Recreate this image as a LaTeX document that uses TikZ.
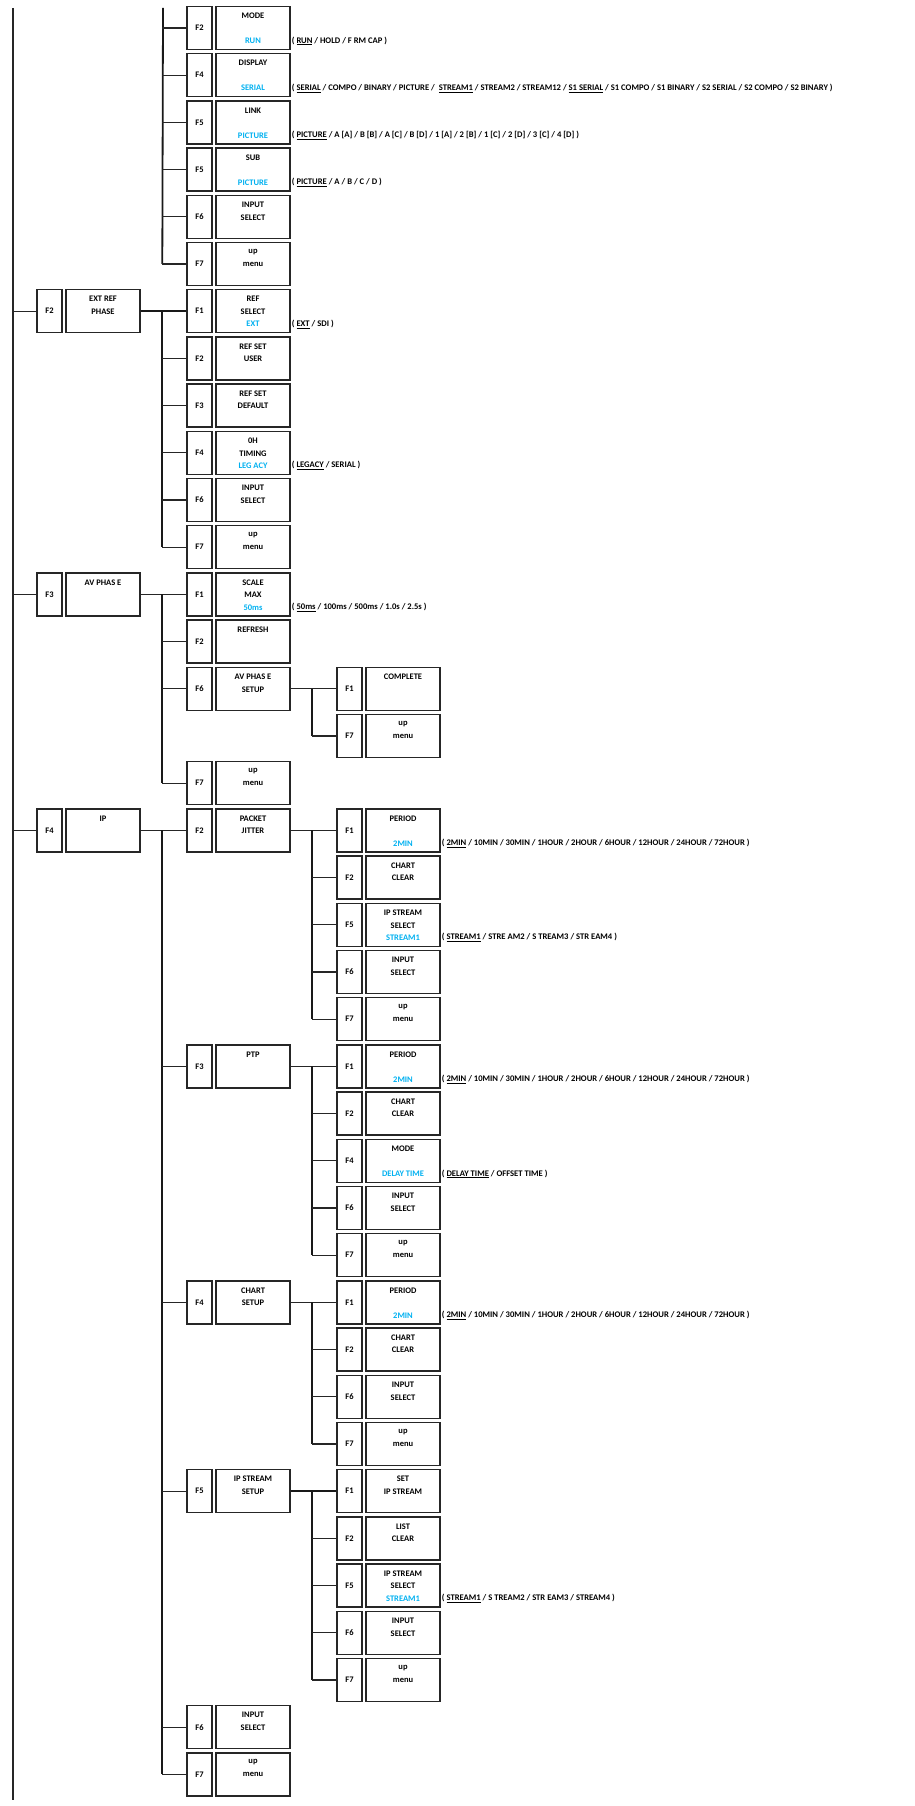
\documentclass[tikz,border=0pt]{standalone}
\usepackage{fontspec}
\setmainfont{Carlito}
\usetikzlibrary{calc}
\definecolor{cy}{HTML}{00B0F0}
\tikzset{
  fk/.style={draw=black!85,line width=1.4pt,minimum width=25pt,minimum height=43pt,inner sep=0pt,font=\fontsize{8.5}{9}\selectfont\bfseries},
  nb/.style={draw=black!85,line width=1.4pt,minimum width=74pt,minimum height=43pt,inner sep=0pt},
  tx/.style={inner sep=0pt,font=\fontsize{8.5}{9}\selectfont\bfseries},
  vx/.style={tx,text=cy},
  lx/.style={inner sep=0pt,anchor=west,font=\fontsize{8.6}{9}\selectfont\bfseries},
  tr/.style={line width=1.8pt,black!90},
  br/.style={line width=1.3pt,black!85}
}
\newcommand\Mk[7]{%
  \pgfmathsetmacro\ry{28+47.2*#3}%
  \node[fk] (#1k) at ({#2+12.5},\ry) {#4};
  \node[nb] (#1) at ({#2+66},\ry) {};
  \node[tx] at ({#2+66},\ry-12) {#5};
  \node[tx] at ({#2+66},\ry+0.5) {#6};
  \node[vx] at ({#2+66},\ry+13) {#7};
}
\newcommand\Lst[2]{\node[lx] (#1l) at ($(#1.east)+(1,13)$) {#2};}
\newcommand\Br[1]{\draw[br] ([xshift=-24pt]#1k.west) -- (#1k.west);}
\newcommand\Tr[2]{\draw[tr] ([xshift=-24pt]#1k.west) -- ([xshift=-24pt]#2k.west);}
\begin{document}
\begin{tikzpicture}[x=1pt,y=-1pt]
\useasboundingbox (0,0) rectangle (915,1806);
% main trunk
\coordinate (m0) at (13,8);
\coordinate (m1) at (13,1800);
\coordinate (t0) at (163,8);
\draw[br] (m0) -- (m1);
% top section
\Mk{mode}{187}{0}{F2}{MODE}{}{RUN}
\Mk{disp}{187}{1}{F4}{DISPLAY}{}{SERIAL}
\Mk{link}{187}{2}{F5}{LINK}{}{PICTURE}
\Mk{sub}{187}{3}{F5}{SUB}{}{PICTURE}
\Mk{ina}{187}{4}{F6}{INPUT}{SELECT}{}
\Mk{upa}{187}{5}{F7}{up}{menu}{}
\Lst{mode}{( \underline{RUN} / HOLD / F RM CAP )}
\Lst{disp}{( \underline{SERIAL} / COMPO / BINARY / PICTURE /\ \ \underline{STREAM1} / STREAM2 / STREAM12 / \underline{S1 SERIAL} / S1 COMPO / S1 BINARY / S2 SERIAL / S2 COMPO / S2 BINARY )}
\Lst{link}{( \underline{PICTURE} / A [A] / B [B] / A [C] / B [D] / 1 [A] / 2 [B] / 1 [C] / 2 [D] / 3 [C] / 4 [D] )}
\Lst{sub}{( \underline{PICTURE} / A / B / C / D )}
\draw[tr] (t0) -- ([xshift=-24pt]upak.west);
\foreach \n in {mode,disp,link,sub,ina,upa} {\Br{\n}}
% EXT REF PHASE
\Mk{ext}{37}{6}{F2}{EXT REF}{PHASE}{}
\Mk{rsel}{187}{6}{F1}{REF}{SELECT}{EXT}
\Mk{ruser}{187}{7}{F2}{REF SET}{USER}{}
\Mk{rdef}{187}{8}{F3}{REF SET}{DEFAULT}{}
\Mk{tim}{187}{9}{F4}{0H}{TIMING}{LEG ACY}
\Mk{inb}{187}{10}{F6}{INPUT}{SELECT}{}
\Mk{upb}{187}{11}{F7}{up}{menu}{}
\Lst{rsel}{( \underline{EXT} / SDI )}
\Lst{tim}{( \underline{LEGACY} / SERIAL )}
\Br{ext}
\draw[tr] (ext.east) -- (rselk.west);
\Tr{rsel}{upb}
\foreach \n in {ruser,rdef,tim,inb,upb} {\Br{\n}}
% AV PHASE
\Mk{av}{37}{12}{F3}{AV PHAS E}{}{}
\Mk{scale}{187}{12}{F1}{SCALE}{MAX}{50ms}
\Mk{refr}{187}{13}{F2}{REFRESH}{}{}
\Mk{avs}{187}{14}{F6}{AV PHAS E}{SETUP}{}
\Mk{upc}{187}{16}{F7}{up}{menu}{}
\Mk{comp}{337}{14}{F1}{COMPLETE}{}{}
\Mk{upd}{337}{15}{F7}{up}{menu}{}
\Lst{scale}{( \underline{50ms} / 100ms / 500ms / 1.0s / 2.5s )}
\Br{av}
\draw[br] (av.east) -- (scalek.west);
\Tr{scale}{upc}
\foreach \n in {refr,avs,upc} {\Br{\n}}
\draw[br] (avs.east) -- (compk.west);
\Tr{comp}{upd}
\Br{upd}
% IP
\Mk{ip}{37}{17}{F4}{IP}{}{}
\Mk{jit}{187}{17}{F2}{PACKET}{JITTER}{}
\Mk{ptp}{187}{22}{F3}{PTP}{}{}
\Mk{chs}{187}{27}{F4}{CHART}{SETUP}{}
\Mk{ips}{187}{31}{F5}{IP STREAM}{SETUP}{}
\Mk{ine}{187}{36}{F6}{INPUT}{SELECT}{}
\Mk{upe}{187}{37}{F7}{up}{menu}{}
\Br{ip}
\draw[br] (ip.east) -- (jitk.west);
\Tr{jit}{upe}
\foreach \n in {ptp,chs,ips,ine,upe} {\Br{\n}}
% jitter children
\Mk{jp}{337}{17}{F1}{PERIOD}{}{2MIN}
\Mk{jc}{337}{18}{F2}{CHART}{CLEAR}{}
\Mk{js}{337}{19}{F5}{IP STREAM}{SELECT}{STREAM1}
\Mk{ji}{337}{20}{F6}{INPUT}{SELECT}{}
\Mk{ju}{337}{21}{F7}{up}{menu}{}
\Lst{jp}{( \underline{2MIN} / 10MIN / 30MIN / 1HOUR / 2HOUR / 6HOUR / 12HOUR / 24HOUR / 72HOUR )}
\Lst{js}{( \underline{STREAM1} / STRE AM2 / S TREAM3 / STR EAM4 )}
\draw[br] (jit.east) -- (jpk.west);
\Tr{jp}{ju}
\foreach \n in {jc,js,ji,ju} {\Br{\n}}
% PTP children
\Mk{pp}{337}{22}{F1}{PERIOD}{}{2MIN}
\Mk{pc}{337}{23}{F2}{CHART}{CLEAR}{}
\Mk{pm}{337}{24}{F4}{MODE}{}{DELAY TIME}
\Mk{pi}{337}{25}{F6}{INPUT}{SELECT}{}
\Mk{pu}{337}{26}{F7}{up}{menu}{}
\Lst{pp}{( \underline{2MIN} / 10MIN / 30MIN / 1HOUR / 2HOUR / 6HOUR / 12HOUR / 24HOUR / 72HOUR )}
\Lst{pm}{( \underline{DELAY TIME} / OFFSET TIME )}
\draw[br] (ptp.east) -- (ppk.west);
\Tr{pp}{pu}
\foreach \n in {pc,pm,pi,pu} {\Br{\n}}
% CHART SETUP children
\Mk{cp}{337}{27}{F1}{PERIOD}{}{2MIN}
\Mk{cc}{337}{28}{F2}{CHART}{CLEAR}{}
\Mk{ci}{337}{29}{F6}{INPUT}{SELECT}{}
\Mk{cu}{337}{30}{F7}{up}{menu}{}
\Lst{cp}{( \underline{2MIN} / 10MIN / 30MIN / 1HOUR / 2HOUR / 6HOUR / 12HOUR / 24HOUR / 72HOUR )}
\draw[br] (chs.east) -- (cpk.west);
\Tr{cp}{cu}
\foreach \n in {cc,ci,cu} {\Br{\n}}
% IP STREAM SETUP children
\Mk{ss}{337}{31}{F1}{SET}{IP STREAM}{}
\Mk{sl}{337}{32}{F2}{LIST}{CLEAR}{}
\Mk{sp}{337}{33}{F5}{IP STREAM}{SELECT}{STREAM1}
\Mk{si}{337}{34}{F6}{INPUT}{SELECT}{}
\Mk{su}{337}{35}{F7}{up}{menu}{}
\Lst{sp}{( \underline{STREAM1} / S TREAM2 / STR EAM3 / STREAM4 )}
\draw[tr] (ips.east) -- (ssk.west);
\Tr{ss}{su}
\foreach \n in {sl,sp,si,su} {\Br{\n}}
\end{tikzpicture}
\end{document}
